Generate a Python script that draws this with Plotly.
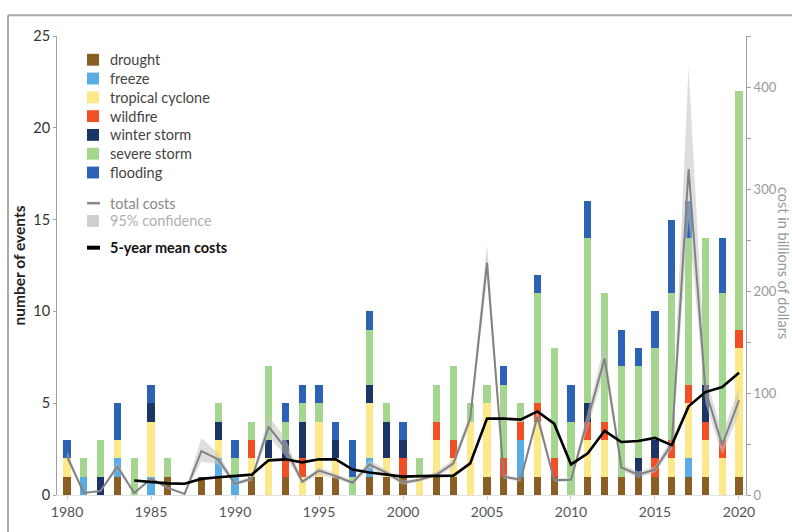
import plotly.graph_objects as go

# ---- data -------------------------------------------------------------
years = list(range(1980, 2021))

# billion-dollar events per year, by type
drought = [1, 0, 0, 1, 0, 0, 1, 0, 1, 1, 0, 1, 0, 1, 0, 1, 1, 0, 1, 1, 1,
           0, 1, 1, 0, 1, 1, 1, 1, 1, 0, 1, 1, 1, 1, 1, 1, 1, 1, 0, 1]
freeze = [0, 1, 0, 1, 0, 1, 0, 0, 0, 1, 1, 0, 0, 0, 0, 0, 0, 0, 1, 0, 0,
          0, 0, 0, 0, 0, 0, 2, 0, 0, 0, 0, 0, 0, 0, 0, 0, 1, 0, 0, 0]
tropical_cyclone = [1, 0, 0, 1, 0, 3, 0, 0, 0, 1, 0, 1, 2, 0, 1, 3, 1, 0, 3, 1, 0,
                    1, 2, 1, 4, 4, 0, 0, 3, 0, 0, 2, 2, 0, 0, 0, 1, 3, 2, 2, 7]
wildfire = [0, 0, 0, 0, 0, 0, 0, 0, 0, 0, 0, 1, 0, 1, 1, 0, 0, 0, 0, 0, 1,
            0, 1, 1, 0, 0, 1, 1, 1, 1, 0, 1, 1, 0, 0, 1, 1, 1, 1, 1, 1]
winter_storm = [0, 0, 1, 0, 0, 1, 0, 0, 0, 1, 0, 0, 1, 1, 2, 0, 1, 0, 1, 2, 1,
                0, 0, 0, 0, 0, 0, 0, 0, 0, 0, 1, 0, 0, 1, 1, 0, 0, 2, 0, 0]
severe_storm = [0, 1, 2, 0, 2, 0, 1, 0, 0, 1, 1, 1, 4, 1, 1, 1, 0, 1, 3, 1, 0,
                1, 2, 4, 1, 1, 4, 1, 6, 6, 4, 9, 7, 6, 5, 5, 8, 8, 8, 8, 13]
flooding = [1, 0, 0, 2, 0, 1, 0, 0, 0, 0, 1, 0, 0, 1, 1, 1, 1, 2, 1, 0, 1,
            0, 0, 0, 0, 0, 1, 0, 1, 0, 2, 2, 0, 2, 1, 2, 4, 2, 0, 3, 0]

# cost in billions of dollars
total_costs = [38, 2, 4, 28, 2, 16, 7, 1, 43, 35, 11, 16, 67, 46, 13, 24, 18.5, 12,
               30, 22, 12, 15, 20, 31, 75, 228, 18, 15, 77, 14.6, 15, 74, 134, 27,
               20, 25, 50, 320, 103, 49, 93]
ci_low = [34, 1, 3, 25, 1, 14, 6, 0.5, 33, 30, 9, 14, 58, 38, 11, 20, 16, 10,
          26, 19, 10, 13, 18, 27, 70, 212, 16, 13, 72, 13, 13, 66, 122, 24,
          17, 22, 45, 270, 90, 40, 80]
ci_high = [43, 3, 5, 32, 3, 18, 8, 1.5, 56, 41, 13, 18, 77, 56, 15, 27, 21, 14,
           34, 25, 14, 17, 23, 35, 81, 246, 20, 17, 84, 16, 17, 84, 148, 30,
           23, 28, 56, 420, 118, 60, 105]

mean_years = list(range(1984, 2021))
mean_costs = [14.3, 12.6, 11.4, 11, 15.8, 17.5, 18.5, 20, 34, 35, 32, 35, 35, 25,
              22, 20, 18, 18.5, 19, 19, 31, 75, 75, 74, 82, 70, 30, 41, 63, 52,
              53, 56, 49, 87, 101, 106, 120]

x_ticks = list(range(1980, 2021, 5))
left_ticks = [0, 5, 10, 15, 20, 25]
right_ticks = [0, 100, 200, 300, 400]

categories = [
    ("drought", drought, "#8a5f24"),
    ("freeze", freeze, "#5aace4"),
    ("tropical cyclone", tropical_cyclone, "#fce98a"),
    ("wildfire", wildfire, "#f24f25"),
    ("winter storm", winter_storm, "#1b3566"),
    ("severe storm", severe_storm, "#a5d68f"),
    ("flooding", flooding, "#2b62b6"),
]

FONT = "Lato"
W, H = 792, 532
L, R, T, B = 57, 46, 36, 32


def px(x):
    return (x - L) / (W - L - R)


def py(y):
    return (H - B - y) / (H - T - B)


fig = go.Figure()

for name, vals, color in categories:
    fig.add_trace(go.Bar(
        x=years, y=vals, name=name, width=0.42,
        marker=dict(color=color, line=dict(width=0)),
        showlegend=False,
    ))

# 95% confidence band around total costs
fig.add_trace(go.Scatter(
    x=years, y=ci_high, yaxis="y2", mode="lines",
    line=dict(width=0, color="rgba(0,0,0,0)"), showlegend=False, hoverinfo="skip",
))
fig.add_trace(go.Scatter(
    x=years, y=ci_low, yaxis="y2", mode="lines", fill="tonexty",
    fillcolor="rgba(195,195,195,0.55)",
    line=dict(width=0, color="rgba(0,0,0,0)"), showlegend=False, hoverinfo="skip",
))
fig.add_trace(go.Scatter(
    x=years, y=total_costs, yaxis="y2", mode="lines", name="total costs",
    line=dict(color="#828282", width=2), showlegend=False,
))
fig.add_trace(go.Scatter(
    x=mean_years, y=mean_costs, yaxis="y2", mode="lines", name="5-year mean costs",
    line=dict(color="#000000", width=2.6), showlegend=False,
))

# ---- legend drawn as swatches + labels ----------------------------------
LEG_SIZE = 14.5
shapes = []
annotations = []
legend_y = [60, 79, 98, 117, 136, 155, 174]
for (name, _, color), yy in zip(categories, legend_y):
    shapes.append(dict(type="rect", xref="paper", yref="paper",
                       x0=px(87), x1=px(99), y0=py(yy + 6), y1=py(yy - 6),
                       fillcolor=color, line=dict(width=0)))
    annotations.append(dict(text=name, xref="paper", yref="paper",
                            x=px(108), y=py(yy), xanchor="left", yanchor="middle",
                            showarrow=False, font=dict(family=FONT, size=LEG_SIZE, color="#444")))

shapes.append(dict(type="line", xref="paper", yref="paper",
                   x0=px(87), x1=px(100), y0=py(205), y1=py(205),
                   line=dict(color="#888", width=2.5)))
annotations.append(dict(text="total costs", xref="paper", yref="paper",
                        x=px(108), y=py(205), xanchor="left", yanchor="middle",
                        showarrow=False, font=dict(family=FONT, size=LEG_SIZE, color="#888")))
shapes.append(dict(type="rect", xref="paper", yref="paper",
                   x0=px(87), x1=px(99), y0=py(229), y1=py(217),
                   fillcolor="#cfcfcf", line=dict(width=0)))
annotations.append(dict(text="95% confidence", xref="paper", yref="paper",
                        x=px(108), y=py(223), xanchor="left", yanchor="middle",
                        showarrow=False, font=dict(family=FONT, size=LEG_SIZE, color="#b0b0b0")))
shapes.append(dict(type="line", xref="paper", yref="paper",
                   x0=px(87), x1=px(100), y0=py(250), y1=py(250),
                   line=dict(color="#000", width=4)))
annotations.append(dict(text="<b>5-year mean costs</b>", xref="paper", yref="paper",
                        x=px(108), y=py(250), xanchor="left", yanchor="middle",
                        showarrow=False, font=dict(family=FONT, size=LEG_SIZE, color="#111")))

# axis titles
annotations.append(dict(text="<b>number of events</b>", xref="paper", yref="paper",
                        x=px(18), y=py(268), xanchor="center", yanchor="middle",
                        textangle=-90, showarrow=False,
                        font=dict(family=FONT, size=15.5, color="#222")))
annotations.append(dict(text="cost in billions of dollars", xref="paper", yref="paper",
                        x=px(783.5), y=py(265), xanchor="center", yanchor="middle",
                        textangle=90, showarrow=False,
                        font=dict(family=FONT, size=14.5, color="#999")))

# outer frame (top and left edges)
shapes.append(dict(type="line", xref="paper", yref="paper",
                   x0=px(8), x1=px(800), y0=py(15), y1=py(15),
                   line=dict(color="#aaaaaa", width=2)))
shapes.append(dict(type="line", xref="paper", yref="paper",
                   x0=px(8), x1=px(8), y0=py(15), y1=py(540),
                   line=dict(color="#aaaaaa", width=2)))

fig.update_layout(
    width=W, height=H,
    margin=dict(l=L, r=R, t=T, b=B, pad=0),
    paper_bgcolor="white", plot_bgcolor="white",
    barmode="stack", bargap=0,
    showlegend=False,
    font=dict(family=FONT, size=13, color="#444"),
    xaxis=dict(
        range=[1979.405, 2020.417], tickvals=x_ticks,
        showgrid=False, zeroline=False,
        showline=True, linecolor="#e2e2e2", linewidth=1,
        ticks="outside", ticklen=4, tickcolor="#cccccc",
        tickfont=dict(family=FONT, size=14, color="#555"),
    ),
    yaxis=dict(
        range=[0, 25], tickvals=left_ticks,
        showgrid=False, zeroline=False,
        showline=True, linecolor="#a0a0a0", linewidth=1,
        ticks="outside", ticklen=3, tickcolor="#a0a0a0",
        tickfont=dict(family=FONT, size=14.5, color="#333"),
    ),
    yaxis2=dict(
        range=[0, 450.5], tickvals=right_ticks, overlaying="y", side="right",
        showgrid=False, zeroline=False,
        showline=True, linecolor="#a0a0a0", linewidth=1,
        ticks="outside", ticklen=4, tickcolor="#a0a0a0",
        minor=dict(dtick=50, ticks="outside", ticklen=4, tickcolor="#a0a0a0"),
        tickfont=dict(family=FONT, size=13, color="#999"),
    ),
    shapes=shapes,
    annotations=annotations,
)

fig.write_html("out.html")
